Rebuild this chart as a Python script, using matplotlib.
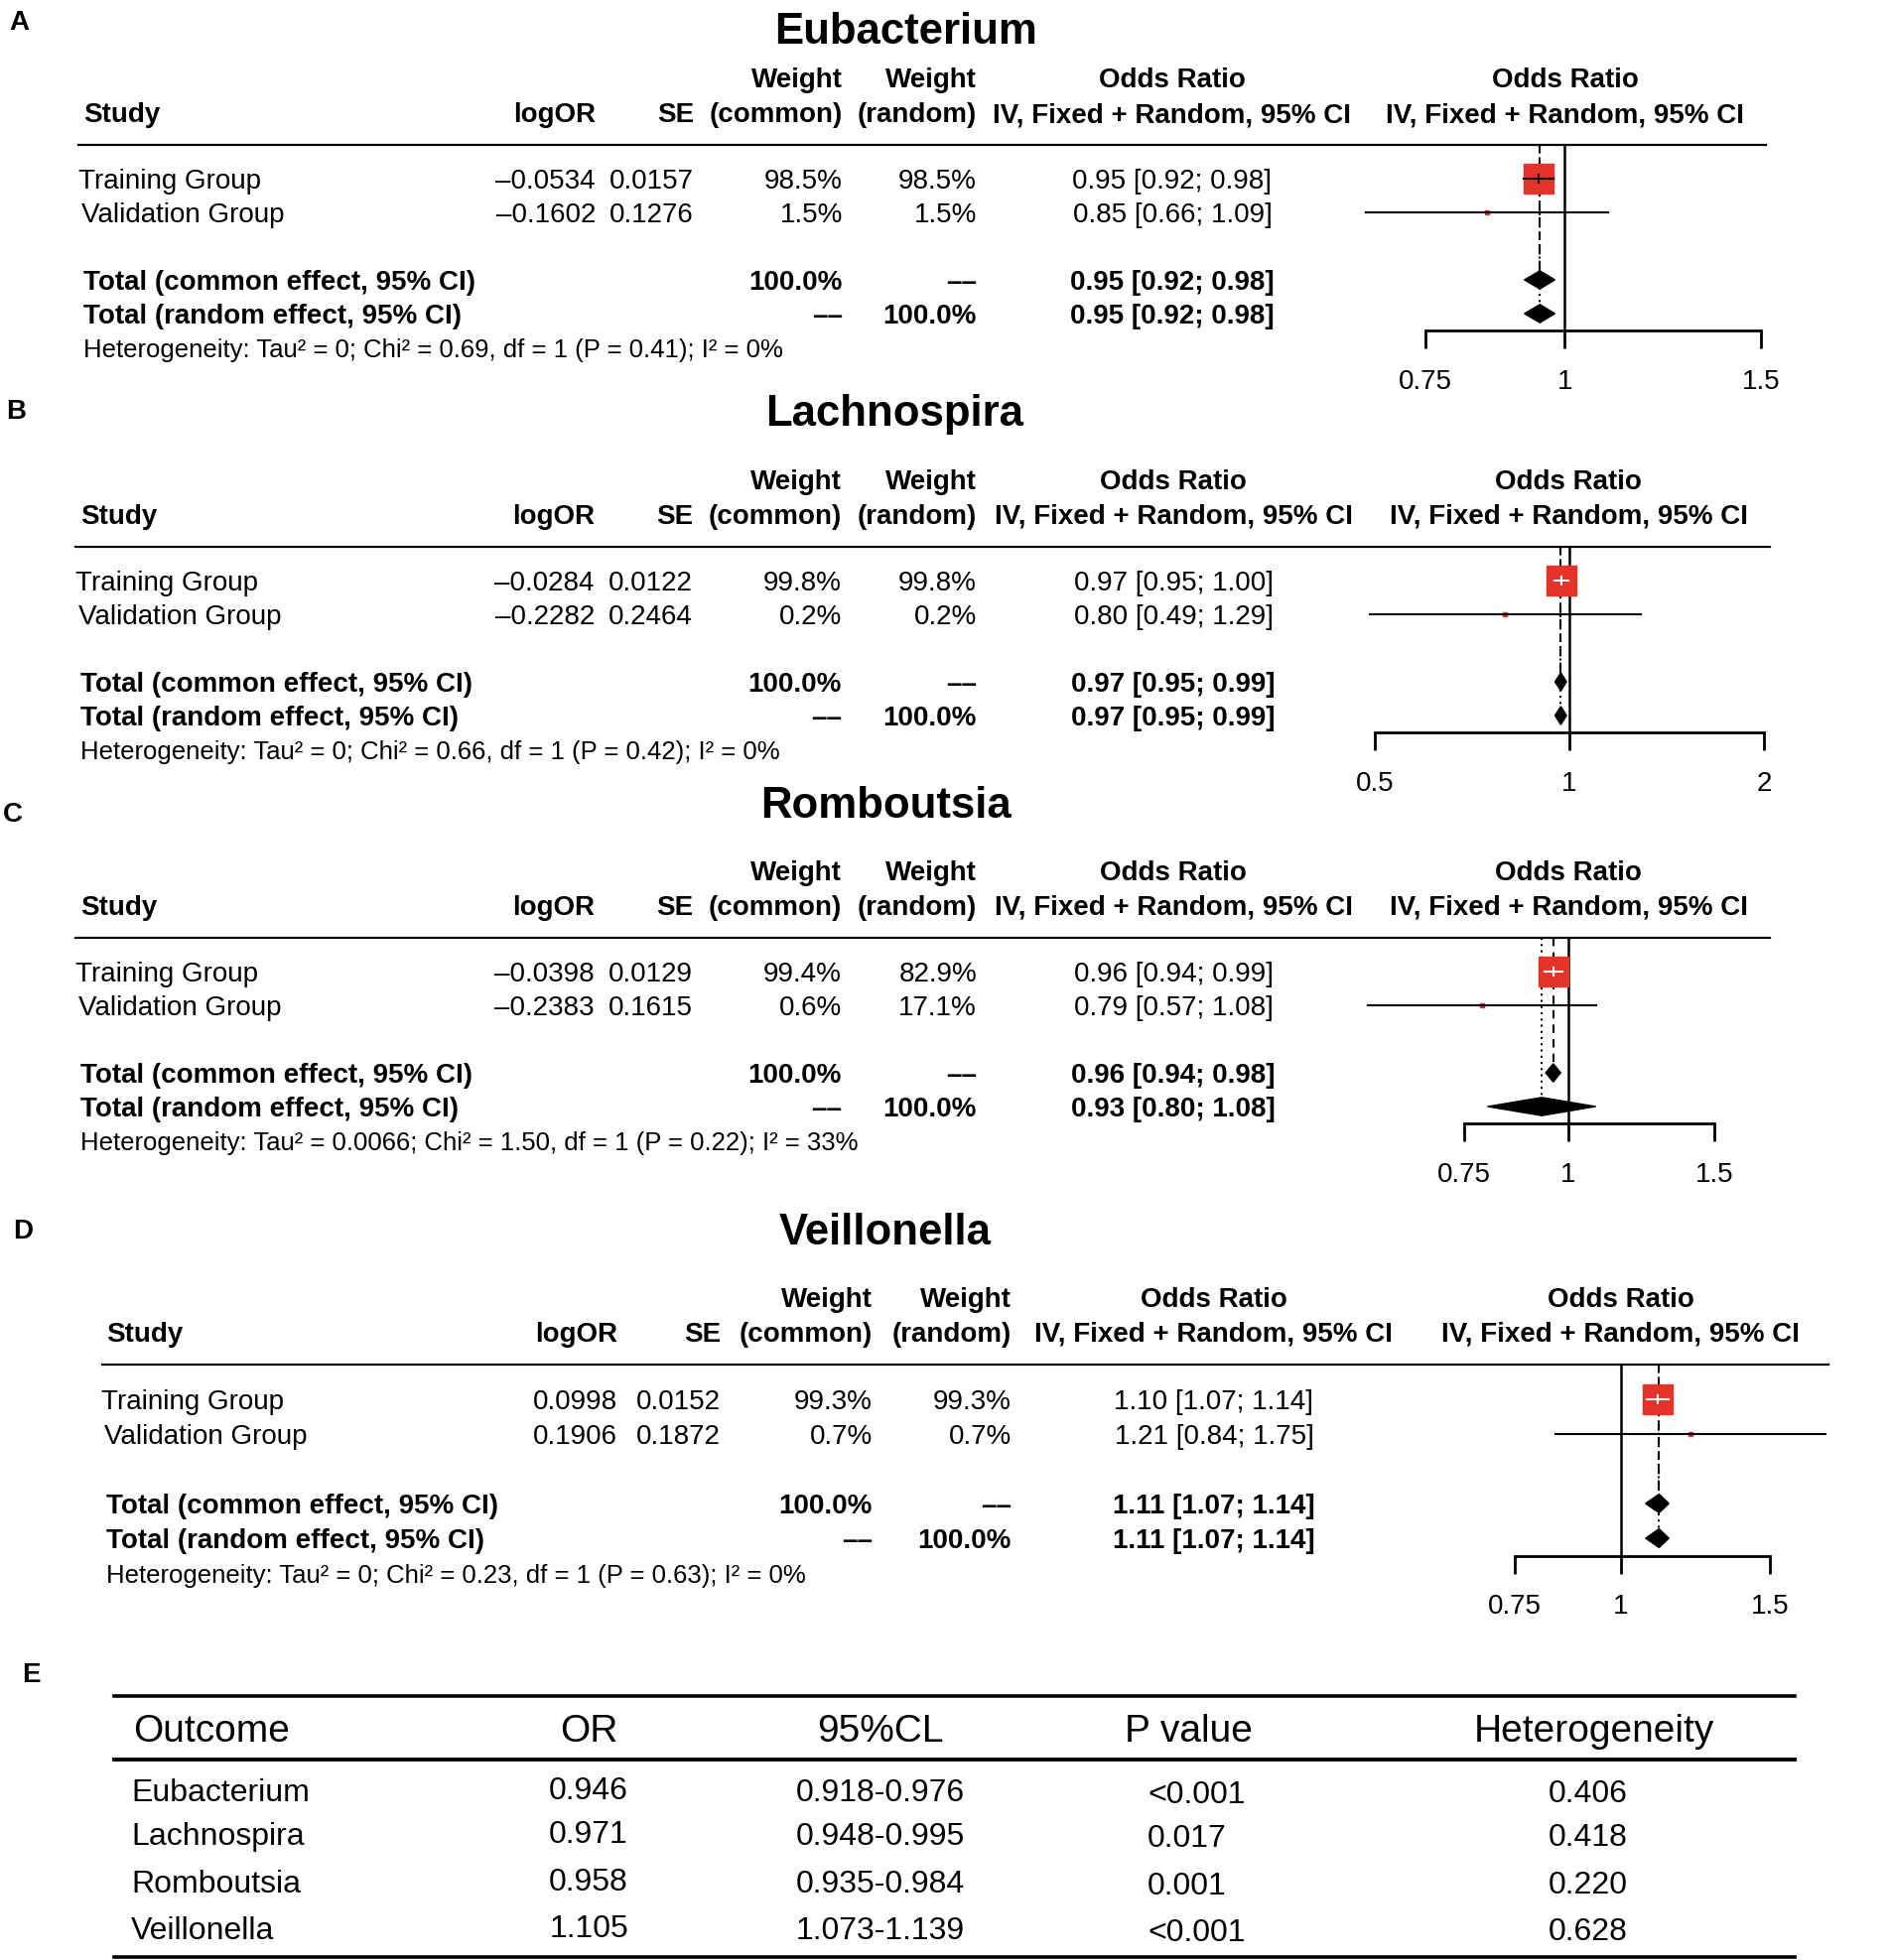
import numpy as np
import matplotlib.pyplot as plt
from matplotlib.lines import Line2D
from matplotlib.ticker import NullLocator

plt.rcParams['font.family'] = ['Liberation Sans', 'DejaVu Sans']

W, H = 1904, 1975

# forest plot data, one entry per panel
titles = ['Eubacterium', 'Lachnospira', 'Romboutsia', 'Veillonella']
letters = ['A', 'B', 'C', 'D']
studies = ['Training Group', 'Validation Group']

logor = [[-0.0534, -0.1602], [-0.0284, -0.2282], [-0.0398, -0.2383], [0.0998, 0.1906]]
se = [[0.0157, 0.1276], [0.0122, 0.2464], [0.0129, 0.1615], [0.0152, 0.1872]]
w_common = [[98.5, 1.5], [99.8, 0.2], [99.4, 0.6], [99.3, 0.7]]
w_random = [[98.5, 1.5], [99.8, 0.2], [82.9, 17.1], [99.3, 0.7]]
or_est = [[0.95, 0.85], [0.97, 0.80], [0.96, 0.79], [1.10, 1.21]]
or_lo = [[0.92, 0.66], [0.95, 0.49], [0.94, 0.57], [1.07, 0.84]]
or_hi = [[0.98, 1.09], [1.00, 1.29], [0.99, 1.08], [1.14, 1.75]]

common_est = [0.95, 0.97, 0.96, 1.11]
common_lo = [0.92, 0.95, 0.94, 1.07]
common_hi = [0.98, 0.99, 0.98, 1.14]
random_est = [0.95, 0.97, 0.93, 1.11]
random_lo = [0.92, 0.95, 0.80, 1.07]
random_hi = [0.98, 0.99, 1.08, 1.14]

tau2 = ['0', '0', '0.0066', '0']
chi2 = [0.69, 0.66, 1.50, 0.23]
pval = [0.41, 0.42, 0.22, 0.63]
i2 = [0, 0, 33, 0]

ticks = [[0.75, 1, 1.5], [0.5, 1, 2], [0.75, 1, 1.5], [0.75, 1, 1.5]]
tick_labels = [['0.75', '1', '1.5'], ['0.5', '1', '2'], ['0.75', '1', '1.5'], ['0.75', '1', '1.5']]

# summary table (panel E)
tbl_cols = ['Outcome', 'OR', '95%CL', 'P value', 'Heterogeneity']
tbl_outcome = ['Eubacterium', 'Lachnospira', 'Romboutsia', 'Veillonella']
tbl_or = ['0.946', '0.971', '0.958', '1.105']
tbl_ci = ['0.918-0.976', '0.948-0.995', '0.935-0.984', '1.073-1.139']
tbl_p = ['<0.001', '0.017', '0.001', '<0.001']
tbl_het = ['0.406', '0.418', '0.220', '0.628']

# layout in pixels (x from left, y from top)
layout = [
    dict(top=146, pitch=34, rule=(79, 1779), title=(913, 33), letter=(19, 23), lab=84,
         cols=[600, 699, 849, 984, 1181], fc=1577, tick_px=(1436, 1774)),
    dict(top=551, pitch=34, rule=(76, 1783), title=(901, 418), letter=(16, 415), lab=81,
         cols=[599, 698, 848, 984, 1182], fc=1580, tick_px=(1385, 1777)),
    dict(top=945, pitch=34, rule=(76, 1783), title=(892, 812), letter=(13, 821), lab=81,
         cols=[599, 698, 848, 984, 1182], fc=1580, tick_px=(1475, 1727)),
    dict(top=1375, pitch=35, rule=(103, 1842), title=(892, 1242), letter=(23, 1241), lab=107,
         cols=[622, 726, 879, 1019, 1223], fc=1633, tick_px=(1526, 1783)),
]

red = '#e5332a'
fs = 20
dy = 3  # text nudge

fig = plt.figure(figsize=(W / 100, H / 100), dpi=100)


def ftext(x, y, s, **kw):
    kw.setdefault('va', 'center')
    kw.setdefault('fontsize', fs)
    fig.text(x / W, 1 - y / H, s, **kw)


def hline(x0, x1, y, lw):
    fig.add_artist(Line2D([x0 / W, x1 / W], [1 - y / H, 1 - y / H], color='black', lw=lw))


def fmt_ci(e, l, h):
    return '%.2f [%.2f; %.2f]' % (e, l, h)


def fmt_num(v):
    s = '%.4f' % v
    return s.replace('-', '\u2013')


dash = '\u2013\u2013'

for p in range(4):
    L = layout[p]
    top, pitch = L['top'], L['pitch']
    c = L['cols']

    ftext(L['letter'][0], L['letter'][1], letters[p], fontweight='bold', ha='center')
    ftext(L['title'][0], L['title'][1], titles[p], fontsize=31.5, fontweight='bold', ha='center')

    # header
    y1, y2 = top - 68 + dy, top - 33 + dy
    ftext(c[2], y1, 'Weight', ha='right', fontweight='bold')
    ftext(c[3], y1, 'Weight', ha='right', fontweight='bold')
    ftext(c[4], y1, 'Odds Ratio', ha='center', fontweight='bold')
    ftext(L['fc'], y1, 'Odds Ratio', ha='center', fontweight='bold')
    ftext(L['lab'], y2, 'Study', ha='left', fontweight='bold')
    ftext(c[0], y2, 'logOR', ha='right', fontweight='bold')
    ftext(c[1], y2, 'SE', ha='right', fontweight='bold')
    ftext(c[2], y2, '(common)', ha='right', fontweight='bold')
    ftext(c[3], y2, '(random)', ha='right', fontweight='bold')
    ftext(c[4], y2, 'IV, Fixed + Random, 95% CI', ha='center', fontweight='bold')
    ftext(L['fc'], y2, 'IV, Fixed + Random, 95% CI', ha='center', fontweight='bold')
    hline(L['rule'][0], L['rule'][1], top, 1.6)

    # study rows
    for i in range(2):
        y = top + pitch * (i + 1) + dy
        ftext(L['lab'] - (5 if i == 0 else 2), y, studies[i], ha='left')
        ftext(c[0], y, fmt_num(logor[p][i]), ha='right')
        ftext(c[1], y, '%.4f' % se[p][i], ha='right')
        ftext(c[2], y, '%.1f%%' % w_common[p][i], ha='right')
        ftext(c[3], y, '%.1f%%' % w_random[p][i], ha='right')
        ftext(c[4], y, fmt_ci(or_est[p][i], or_lo[p][i], or_hi[p][i]), ha='center')

    # totals
    yc, yr = top + pitch * 4 + dy, top + pitch * 5 + dy
    ftext(L['lab'], yc, 'Total (common effect, 95% CI)', ha='left', fontweight='bold')
    ftext(L['lab'], yr, 'Total (random effect, 95% CI)', ha='left', fontweight='bold')
    ftext(c[2], yc, '100.0%', ha='right', fontweight='bold')
    ftext(c[3], yc, dash, ha='right', fontweight='bold')
    ftext(c[2], yr, dash, ha='right', fontweight='bold')
    ftext(c[3], yr, '100.0%', ha='right', fontweight='bold')
    ftext(c[4], yc, fmt_ci(common_est[p], common_lo[p], common_hi[p]), ha='center', fontweight='bold')
    ftext(c[4], yr, fmt_ci(random_est[p], random_lo[p], random_hi[p]), ha='center', fontweight='bold')
    het = 'Heterogeneity: Tau\u00b2 = %s; Chi\u00b2 = %.2f, df = 1 (P = %.2f); I\u00b2 = %d%%' % (
        tau2[p], chi2[p], pval[p], i2[p])
    ftext(L['lab'], top + pitch * 6 + dy, het, ha='left', fontsize=18.5)

    # forest axes
    l, r = L['tick_px']
    b = top + 5.5 * pitch
    ax = fig.add_axes([l / W, 1 - b / H, (r - l) / W, (b - top) / H])
    ax.set_xscale('log')
    t = ticks[p]
    ax.set_xlim(t[0], t[-1])
    ax.set_ylim(5.5, 0)
    ax.patch.set_alpha(0)
    for s in ['left', 'right', 'top']:
        ax.spines[s].set_visible(False)
    ax.spines['bottom'].set_linewidth(2)
    ax.set_yticks([])
    ax.set_xticks(t)
    ax.set_xticklabels(tick_labels[p])
    ax.xaxis.set_minor_locator(NullLocator())
    ax.tick_params(axis='x', direction='out', length=13, width=2, labelsize=fs, pad=15)

    ax.plot([1, 1], [0, 5.5], color='black', lw=1.8, clip_on=False, zorder=2)
    dh = 0.27
    ax.plot([common_est[p]] * 2, [0, 4 - dh], color='black', lw=1.5, ls=(0, (4, 3)), zorder=1)
    ax.plot([random_est[p]] * 2, [0, 5 - dh], color='black', lw=1.5, ls=(0, (1, 2)), zorder=1)

    px_per_log = (r - l) / (np.log(t[-1]) - np.log(t[0]))
    for i in range(2):
        y = i + 1
        est = np.exp(logor[p][i])
        lo = np.exp(logor[p][i] - 1.96 * se[p][i])
        hi = np.exp(logor[p][i] + 1.96 * se[p][i])
        side_px = max(0.86 * pitch * np.sqrt(w_common[p][i] / 100), 4)
        ax.plot(est, y, marker='s', ms=side_px * 0.72, color=red, mec=red, ls='none',
                zorder=3, clip_on=False)
        half = side_px / 2 / px_per_log
        inside = (np.log(est) - np.log(lo) <= half) and (np.log(hi) - np.log(est) <= half)
        col = 'white' if inside else 'black'
        ax.plot([lo, hi], [y, y], color=col, lw=1.5, zorder=4, clip_on=False)
        if side_px > 10:
            ax.plot([est, est], [y - 0.12, y + 0.12], color=col, lw=1.5, zorder=4)

    for y, e, lo, hi in [(4, common_est[p], common_lo[p], common_hi[p]),
                         (5, random_est[p], random_lo[p], random_hi[p])]:
        ax.fill([lo, e, hi, e], [y, y - dh, y, y + dh], color='black', zorder=3, clip_on=False)

# panel E table
ftext(31, 1688, 'E', fontweight='bold', ha='center')
hline(115, 1808, 1709, 2.6)
hline(115, 1808, 1773, 2.8)
hline(115, 1808, 1972, 2.6)
ftext(134, 1745, tbl_cols[0], ha='left', fontsize=28)
ftext(593, 1745, tbl_cols[1], ha='center', fontsize=28)
ftext(887, 1745, tbl_cols[2], ha='center', fontsize=28)
ftext(1197, 1745, tbl_cols[3], ha='center', fontsize=28)
ftext(1606, 1745, tbl_cols[4], ha='center', fontsize=28)
row_y = [1807, 1851, 1899, 1946]
for k in range(4):
    y = row_y[k]
    ftext(132, y, tbl_outcome[k], ha='left', fontsize=23)
    ftext(593, y - 2, tbl_or[k], ha='center', fontsize=23)
    ftext(887, y, tbl_ci[k], ha='center', fontsize=23)
    ftext(1156, y + 2, tbl_p[k], ha='left', fontsize=23)
    ftext(1600, y + 1, tbl_het[k], ha='center', fontsize=23)

fig.savefig('out.png', dpi=100)
